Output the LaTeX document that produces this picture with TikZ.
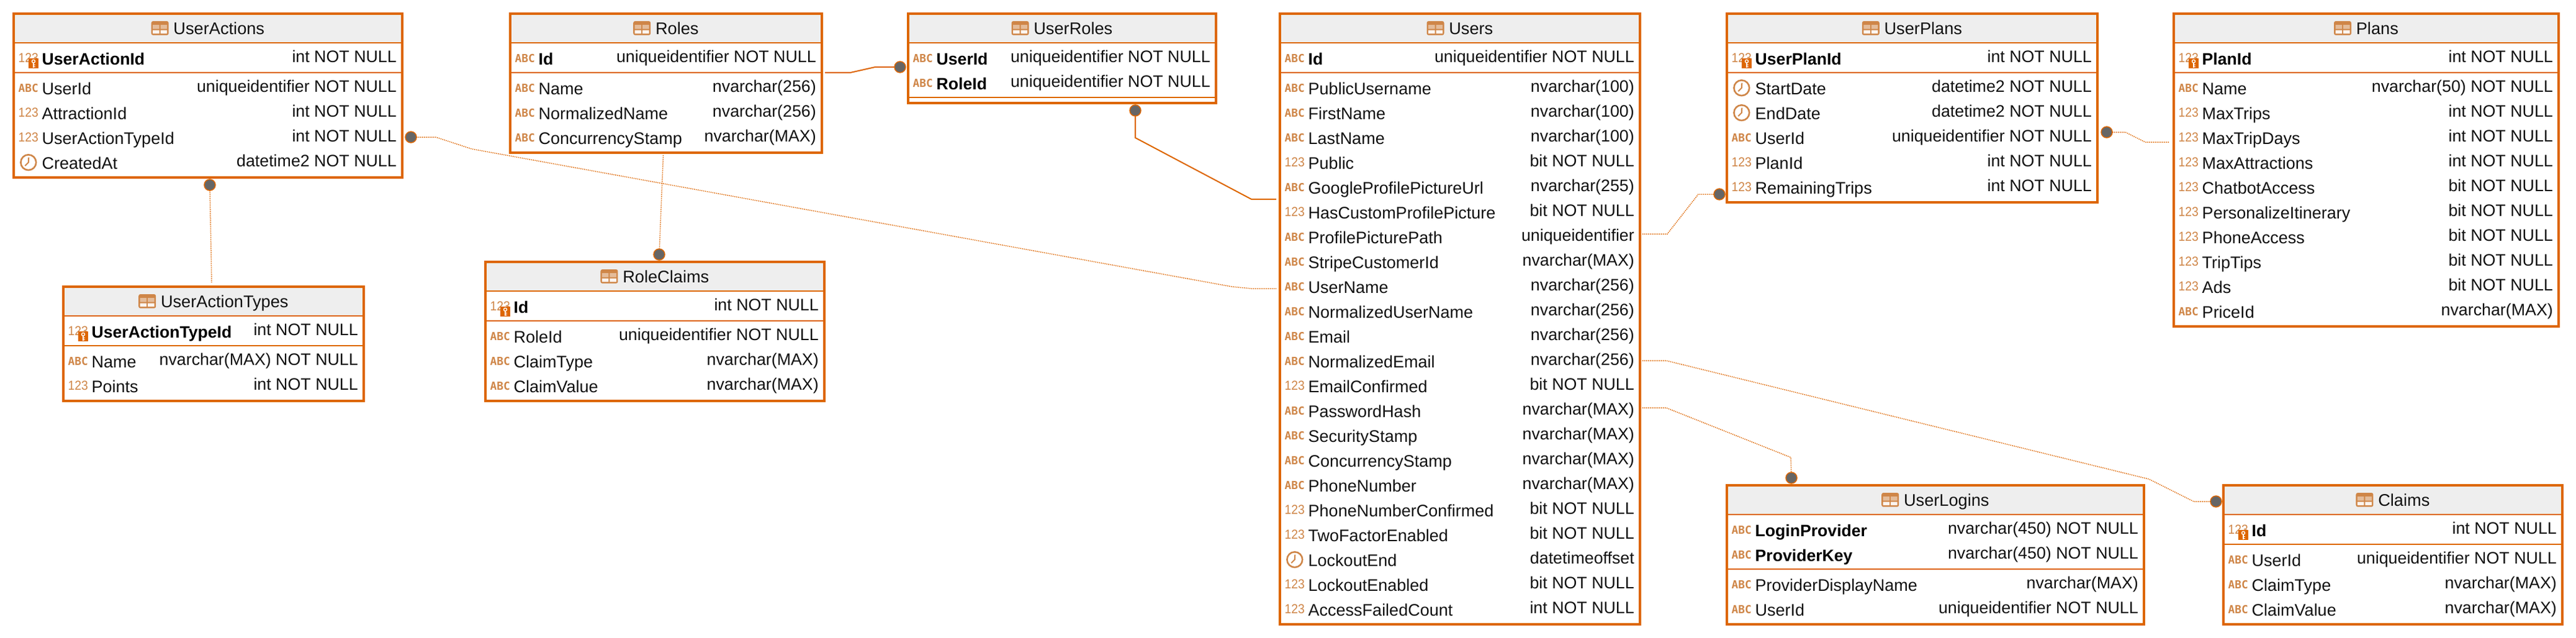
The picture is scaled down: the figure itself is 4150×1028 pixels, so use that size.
\documentclass[tikz,border=0pt]{standalone}
\usepackage{fontspec}
\usepackage{graphicx}
\setmainfont{Liberation Sans}
\newfontfamily\abcfont{DejaVu Sans Mono}
\usetikzlibrary{calc}
\definecolor{dborange}{HTML}{DD6600}
\definecolor{dbicon}{HTML}{CF8648}
\definecolor{dbhead}{HTML}{EEEEEE}
\definecolor{dbdot}{HTML}{666666}
\definecolor{dbtext}{HTML}{111111}
\tikzset{
  framebox/.style={draw=dborange,line width=4pt,inner sep=0pt,outer sep=0pt,rectangle},
  sepline/.style={draw=dborange,line width=2pt},
  titletext/.style={inner sep=0pt,anchor=base,text=dbtext,font=\fontsize{27.2}{30}\selectfont},
  colname/.style={inner sep=0pt,anchor=base west,text=dbtext,font=\fontsize{27}{30}\selectfont},
  keyname/.style={inner sep=0pt,anchor=base west,text=black,font=\fontsize{26.6}{30}\selectfont\bfseries},
  coltype/.style={inner sep=0pt,anchor=base east,text=dbtext,font=\fontsize{26.8}{30}\selectfont},
  abcicon/.style={inner sep=0pt,anchor=base west,text=dbicon,font=\abcfont\fontsize{17.8}{20}\selectfont\bfseries},
  numicon/.style={inner sep=0pt,anchor=base west,text=dbicon,font=\fontsize{21}{22}\selectfont},
  clockline/.style={draw=dbicon,line width=2.6pt},
  optrel/.style={draw=dborange,line width=1.5pt,dash pattern=on 1.5pt off 1.5pt},
  idrel/.style={draw=dborange,line width=2pt},
  reldot/.style={circle,fill=dbdot,draw=dborange,line width=1.5pt,minimum size=18pt,inner sep=0pt,outer sep=0pt},
}
\newcount\rowno
\newcommand{\tbl}[7]{% id, title, L, R, T, B, keys
  \def\curN{#1}\def\curL{#3}\def\curRt{#4}\global\rowno=0
  \edef\curK{\the\numexpr#5+84\relax}
  \edef\curC{\the\numexpr#5+132+40*(#7-1)\relax}
  \edef\tw{\the\numexpr#4-#3-4\relax}\edef\th{\the\numexpr#6-#5-4\relax}
  \edef\hy{\the\numexpr#5+49\relax}
  \edef\dy{\the\numexpr#5+97+40*(#7-1)\relax}
  \fill[dbhead] (#3,#5) rectangle (#4,\hy);
  \draw[sepline] (#3,\hy) -- (#4,\hy);
  \draw[sepline] (#3,\dy) -- (#4,\dy);
  \node[framebox,minimum width=\tw pt,minimum height=\th pt] (#1) at ({(#3+#4)/2},{(#5+#6)/2}) {};
  \node[titletext] (#1-title) at ({(#3+#4)/2+17.8},#5+35) {#2};
  \coordinate (#1-top) at (0,#5);
  \begin{scope}[shift={(#1-title.west |- #1-top)}]
    \fill[dbicon,rounded corners=3pt] (-35.6,14) rectangle (-7.6,36.7);
    \fill[dbicon!55!white] (-33.1,20) rectangle (-22.6,26.5) (-20.6,20) rectangle (-10.1,26.5);
    \fill[white!92!dbicon] (-33.1,28.5) rectangle (-22.6,34) (-20.6,28.5) rectangle (-10.1,34);
  \end{scope}
}
\newcommand{\mkicon}[2]{% kind, baseline of the name
  \global\advance\rowno by 1
  \csname dbicon#1\endcsname{#2}}
\newcommand{\dbiconA}[1]{\node[abcicon] (\curN-i\the\rowno) at (\curL+9.5,#1-4) {ABC};}
\newcommand{\dbiconN}[1]{\node[numicon] (\curN-i\the\rowno) at (\curL+9.5,#1-4) {\scalebox{0.92}[1]{123}};}
\newcommand{\dbiconC}[1]{%
  \coordinate (\curN-i\the\rowno) at (\curL+25.8,#1-10.3);
  \draw[clockline] (\curN-i\the\rowno) circle[radius=12.4];
  \draw[draw=dbicon,line width=2pt] ($(\curN-i\the\rowno)+(0.5,-8)$) -- (\curN-i\the\rowno) -- ++(-5.5,5.5);}
\newcommand{\dbiconK}[1]{%
  \node[numicon] (\curN-i\the\rowno) at (\curL+9.5,#1-4) {\scalebox{0.92}[1]{123}};
  \fill[dborange] (\curL+26,#1-10) rectangle (\curL+42,#1+6);
  \draw[white,line width=1.4pt] (\curL+34,#1-5.2) circle[radius=2.5];
  \draw[white,line width=1.6pt] (\curL+34,#1-2.7) -- (\curL+34,#1+4.5);
  \draw[white,line width=1.3pt] (\curL+34,#1+0.6) -- (\curL+37,#1+0.6) (\curL+34,#1+3.2) -- (\curL+37,#1+3.2);}
\newcommand{\K}[3]{% key row
  \mkicon{#1}{\curK}
  \node[keyname] (\curN-n\the\rowno) at (\curL+47.5,\curK) {#2};
  \node[coltype] (\curN-t\the\rowno) at (\curRt-11,\curK-4) {#3};
  \edef\curK{\the\numexpr\curK+40\relax}}
\newcommand{\C}[3]{% ordinary row
  \mkicon{#1}{\curC}
  \node[colname] (\curN-n\the\rowno) at (\curL+47.5,\curC) {#2};
  \node[coltype] (\curN-t\the\rowno) at (\curRt-11,\curC-4) {#3};
  \edef\curC{\the\numexpr\curC+40\relax}}
\def\nn{NOT NULL}
\begin{document}
\begin{tikzpicture}[x=1pt,y=-1pt]
\useasboundingbox (0,0) rectangle (4150,1028);
\fill[white] (0,0) rectangle (4150,1028);

% tables
\tbl{UserActions}{UserActions}{20}{650}{20}{288}{1}
\K{K}{UserActionId}{int \nn}
\C{A}{UserId}{uniqueidentifier \nn}
\C{N}{AttractionId}{int \nn}
\C{N}{UserActionTypeId}{int \nn}
\C{C}{CreatedAt}{datetime2 \nn}

\tbl{UserActionTypes}{UserActionTypes}{100}{588}{460}{648}{1}
\K{K}{UserActionTypeId}{int \nn}
\C{A}{Name}{nvarchar(MAX) \nn}
\C{N}{Points}{int \nn}

\tbl{Roles}{Roles}{820}{1326}{20}{248}{1}
\K{A}{Id}{uniqueidentifier \nn}
\C{A}{Name}{nvarchar(256)}
\C{A}{NormalizedName}{nvarchar(256)}
\C{A}{ConcurrencyStamp}{nvarchar(MAX)}

\tbl{RoleClaims}{RoleClaims}{780}{1330}{420}{648}{1}
\K{K}{Id}{int \nn}
\C{A}{RoleId}{uniqueidentifier \nn}
\C{A}{ClaimType}{nvarchar(MAX)}
\C{A}{ClaimValue}{nvarchar(MAX)}

\tbl{UserRoles}{UserRoles}{1461}{1961}{20}{168}{2}
\K{A}{UserId}{uniqueidentifier \nn}
\K{A}{RoleId}{uniqueidentifier \nn}

\tbl{Users}{Users}{2060}{2644}{20}{1008}{1}
\K{A}{Id}{uniqueidentifier \nn}
\C{A}{PublicUsername}{nvarchar(100)}
\C{A}{FirstName}{nvarchar(100)}
\C{A}{LastName}{nvarchar(100)}
\C{N}{Public}{bit \nn}
\C{A}{GoogleProfilePictureUrl}{nvarchar(255)}
\C{N}{HasCustomProfilePicture}{bit \nn}
\C{A}{ProfilePicturePath}{uniqueidentifier}
\C{A}{StripeCustomerId}{nvarchar(MAX)}
\C{A}{UserName}{nvarchar(256)}
\C{A}{NormalizedUserName}{nvarchar(256)}
\C{A}{Email}{nvarchar(256)}
\C{A}{NormalizedEmail}{nvarchar(256)}
\C{N}{EmailConfirmed}{bit \nn}
\C{A}{PasswordHash}{nvarchar(MAX)}
\C{A}{SecurityStamp}{nvarchar(MAX)}
\C{A}{ConcurrencyStamp}{nvarchar(MAX)}
\C{A}{PhoneNumber}{nvarchar(MAX)}
\C{N}{PhoneNumberConfirmed}{bit \nn}
\C{N}{TwoFactorEnabled}{bit \nn}
\C{C}{LockoutEnd}{datetimeoffset}
\C{N}{LockoutEnabled}{bit \nn}
\C{N}{AccessFailedCount}{int \nn}

\tbl{UserPlans}{UserPlans}{2780}{3381}{20}{328}{1}
\K{K}{UserPlanId}{int \nn}
\C{C}{StartDate}{datetime2 \nn}
\C{C}{EndDate}{datetime2 \nn}
\C{A}{UserId}{uniqueidentifier \nn}
\C{N}{PlanId}{int \nn}
\C{N}{RemainingTrips}{int \nn}

\tbl{Plans}{Plans}{3500}{4124}{20}{528}{1}
\K{K}{PlanId}{int \nn}
\C{A}{Name}{nvarchar(50) \nn}
\C{N}{MaxTrips}{int \nn}
\C{N}{MaxTripDays}{int \nn}
\C{N}{MaxAttractions}{int \nn}
\C{N}{ChatbotAccess}{bit \nn}
\C{N}{PersonalizeItinerary}{bit \nn}
\C{N}{PhoneAccess}{bit \nn}
\C{N}{TripTips}{bit \nn}
\C{N}{Ads}{bit \nn}
\C{A}{PriceId}{nvarchar(MAX)}

\tbl{UserLogins}{UserLogins}{2780}{3456}{780}{1008}{2}
\K{A}{LoginProvider}{nvarchar(450) \nn}
\K{A}{ProviderKey}{nvarchar(450) \nn}
\C{A}{ProviderDisplayName}{nvarchar(MAX)}
\C{A}{UserId}{uniqueidentifier \nn}

\tbl{Claims}{Claims}{3580}{4130}{780}{1008}{1}
\K{K}{Id}{int \nn}
\C{A}{UserId}{uniqueidentifier \nn}
\C{A}{ClaimType}{nvarchar(MAX)}
\C{A}{ClaimValue}{nvarchar(MAX)}

% connector end dots
\node[reldot] (dotUAright) at (662,221) {};
\node[reldot] (dotUAbottom) at (338,298) {};
\node[reldot] (dotRC) at (1062,410) {};
\node[reldot] (dotURleft) at (1450,108) {};
\node[reldot] (dotURbottom) at (1829,178) {};
\node[reldot] (dotUPleft) at (2770,313) {};
\node[reldot] (dotUPright) at (3394,213) {};
\node[reldot] (dotUL) at (2886,770) {};
\node[reldot] (dotCl) at (3570,808) {};

% free ends near the tables
\coordinate (endUserName) at (2056,465);
\coordinate (endUAT) at (341,455);
\coordinate (startRoles) at (1068.5,250);
\coordinate (startRolesSide) at (1329,117);
\coordinate (endUsersLeft) at (2056,321);
\coordinate (startUsersPic) at (2646,377);
\coordinate (endPlans) at (3495,229);
\coordinate (startUsersEmail) at (2646,581);
\coordinate (startUsersHash) at (2646,657);

% connectors
\draw[optrel] (dotUAright) -- (702,221) -- (760,240) -- (1985,462) -- (2016,465) -- (endUserName);
\draw[optrel] (dotUAbottom) -- (endUAT);
\draw[optrel] (startRoles) -- (dotRC);
\draw[idrel] (startRolesSide) -- (1370,117) -- (1410,108) -- (dotURleft);
\draw[idrel] (dotURbottom) -- (1829,222) -- (2016,321) -- (endUsersLeft);
\draw[optrel] (startUsersPic) -- (2686,377) -- (2736,313) -- (dotUPleft);
\draw[optrel] (dotUPright) -- (3424,213) -- (3456,229) -- (endPlans);
\draw[optrel] (startUsersEmail) -- (2684,581) -- (3462,772) -- (3534,808) -- (dotCl);
\draw[optrel] (startUsersHash) -- (2684,657) -- (2885,737) -- (dotUL);
\end{tikzpicture}
\end{document}
